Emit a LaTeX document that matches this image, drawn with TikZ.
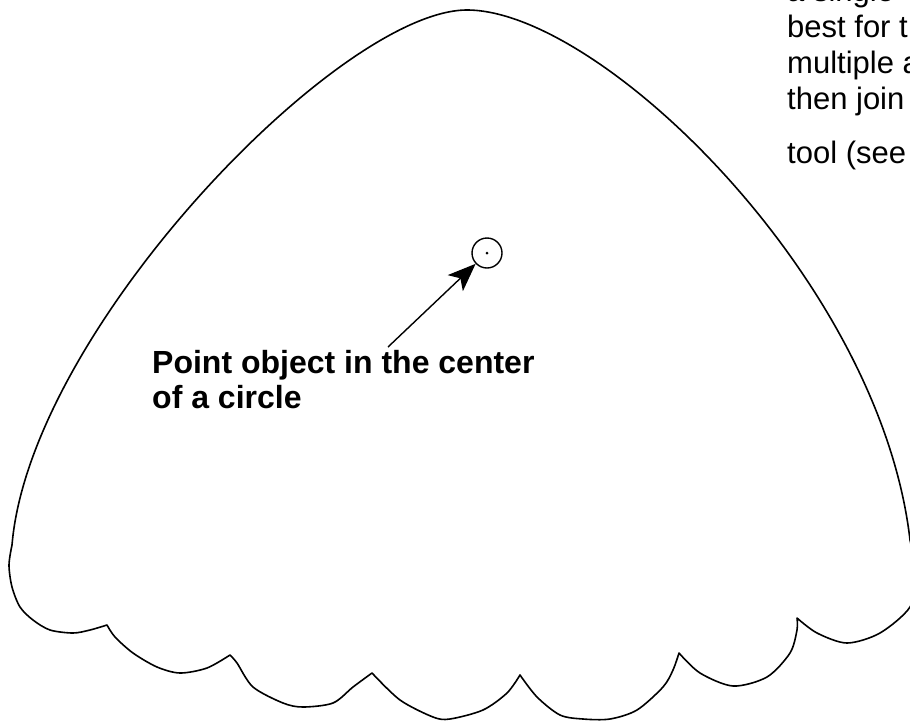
\documentclass[tikz,border=0pt]{standalone}
\usepackage{fontspec}
\setmainfont{Liberation Sans}
\usetikzlibrary{arrows.meta}
\begin{document}
\begin{tikzpicture}[x=1pt,y=-1pt,
  outline/.style={line width=1.6pt, line join=round},
  lbl/.style={font=\bfseries\fontsize{32}{35}\selectfont, align=left, inner sep=0pt, anchor=base west},
  body/.style={font=\fontsize{31}{36}\selectfont, align=left, inner sep=0pt, anchor=base west},
  ring/.style={circle, draw, line width=1.4pt, minimum size=30pt, inner sep=0pt},
  pointer/.style={line width=1.4pt, -{Stealth[length=28pt,width=22pt,inset=7pt]}}]
\useasboundingbox (0,0) rectangle (910,721);
\fill[white] (0,0) rectangle (910,721);
\begin{scope}
\clip (0,0) rectangle (910,721);
\draw[outline]
  (12,545) .. controls (30,330) and (340,10) .. (467,10)
  .. controls (600,10) and (880,280) .. (910,540)
  -- plot[smooth] coordinates {(910,540) (916,575) (910,607) (880,633) (847,643) (817,633) (797,618)}
  -- plot[smooth] coordinates {(797,618) (797,630) (790,653) (767,677) (733,686) (700,673) (679,653)}
  -- plot[smooth] coordinates {(679,653) (673,670) (663,687) (637,710) (610,719) (583,719) (560,715) (537,697) (520,675)}
  -- plot[smooth] coordinates {(520,675) (507,693) (483,710) (450,719) (433,717) (400,700) (372,673)}
  -- plot[smooth] coordinates {(372,673) (353,687) (333,703) (303,707) (283,703) (253,687) (237,663) (230,655)}
  -- plot[smooth] coordinates {(230,655) (207,668) (180,673) (157,667) (133,653) (115,637) (107,625)}
  -- plot[smooth] coordinates {(107,625) (90,630) (73,633) (50,630) (33,620) (20,607) (12,587) (9,565) (12,545)}
  -- cycle;
\node[body] (note) at (787,163) {a single\\best for t\\multiple a\\then join\\[18pt]tool (see};
\end{scope}
\node[ring] (pc) at (487,253) {};
\fill (pc.center) circle (1.5pt);
\coordinate (tail) at (388,347);
\draw[pointer] (tail) -- (pc);
\node[lbl] (label) at (152,408) {Point object in the center\\of a circle};
\end{tikzpicture}
\end{document}
